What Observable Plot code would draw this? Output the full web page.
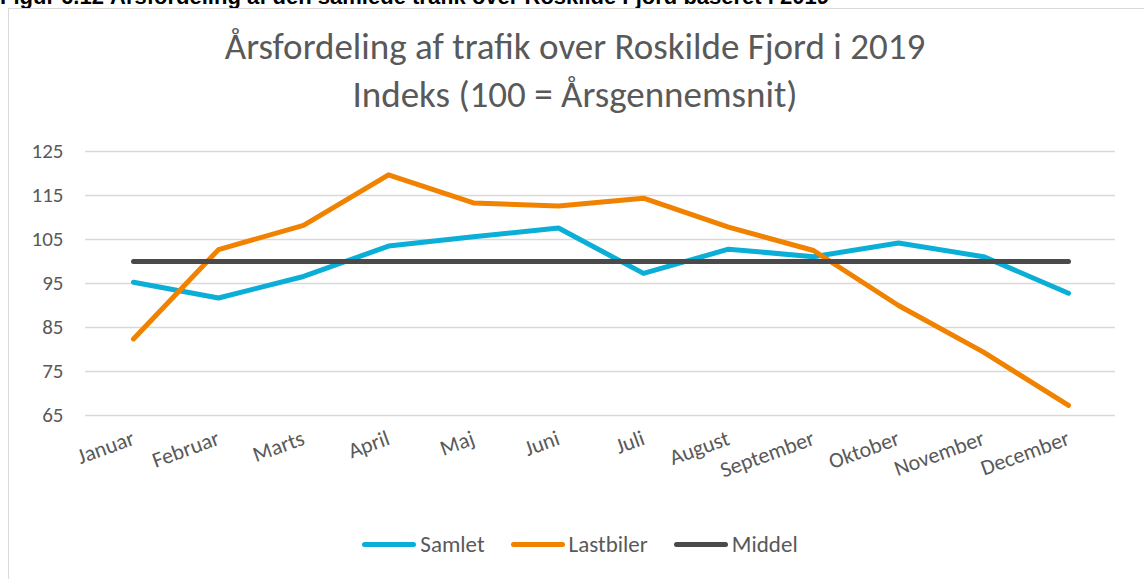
<!DOCTYPE html>
<html>
<head>
<meta charset="utf-8">
<script src="https://cdn.jsdelivr.net/npm/d3@7"></script>
<script src="https://cdn.jsdelivr.net/npm/@observablehq/plot@0.6"></script>
<style>
  html, body { margin: 0; padding: 0; background: #fff; }
  #wrap { position: relative; width: 1144px; height: 579px; overflow: hidden; font-family: Carlito, Lato, "Open Sans", sans-serif; color: #595959; }
  #caption { position: absolute; left: 0px; top: -16px; font: bold 22px "Liberation Sans", Arial, sans-serif; color: #000; white-space: nowrap; }
  #frame { position: absolute; left: 8px; top: 8px; width: 1160px; height: 600px; border: 1px solid #d9d9d9; box-sizing: border-box; }
  .title { position: absolute; left: 0; width: 1150px; text-align: center; font-size: 37px; font-weight: 300; color: #595959; white-space: nowrap; line-height: 1; }
  #chart { position: absolute; left: 0; top: 120px; }
  #legend { position: absolute; left: 0; width: 1160px; top: 530px; display: flex; justify-content: center; gap: 26px; font-size: 23px; color: #595959; }
  .item { display: flex; align-items: center; }
  .sw { width: 54px; height: 5px; border-radius: 3px; margin-right: 4px; }
</style>
</head>
<body>
<div id="wrap">
  <div id="caption">Figur 6.12 Årsfordeling af den samlede trafik over Roskilde Fjord baseret i 2019</div>
  <div id="frame"></div>
  <div class="title" style="top:28px">Årsfordeling af trafik over Roskilde Fjord i 2019</div>
  <div class="title" style="top:76px">Indeks (100 = Årsgennemsnit)</div>
  <div id="chart"></div>
  <div id="legend"></div>
</div>
<script>
const months = ["Januar","Februar","Marts","April","Maj","Juni","Juli","August","September","Oktober","November","December"];
const samlet = [95.3, 91.7, 96.6, 103.5, 105.6, 107.6, 97.3, 102.8, 101.1, 104.2, 101.1, 92.8];
const lastbiler = [82.4, 102.7, 108.2, 119.7, 113.3, 112.6, 114.4, 107.8, 102.5, 90.0, 79.4, 67.3];
const middel = [100, 100, 100, 100, 100, 100, 100, 100, 100, 100, 100, 100];
const yTicks = [65, 75, 85, 95, 105, 115, 125];
const seriesNames = ["Samlet", "Lastbiler", "Middel"];
const seriesColors = ["#0AAED6", "#F08200", "#4A4A4A"];

const seriesValues = [samlet, lastbiler, middel];
const data = [];
seriesNames.forEach((s, si) => months.forEach((m, i) => data.push({series: s, month: m, value: seriesValues[si][i]})));

const chart = Plot.plot({
  width: 1144,
  height: 360,
  marginTop: 31,
  marginBottom: 65,
  marginLeft: 85,
  marginRight: 29,
  style: {fontFamily: "Carlito, Lato, 'Open Sans', sans-serif", fontSize: "21px", color: "#595959", background: "transparent", overflow: "visible"},
  x: {type: "point", domain: months, padding: 0.5},
  y: {domain: [65, 125]},
  color: {domain: seriesNames, range: seriesColors},
  marks: [
    Plot.gridY(yTicks, {stroke: "#d9d9d9", strokeOpacity: 1, strokeWidth: 1.3}),
    Plot.axisY(yTicks, {tickSize: 0, tickPadding: 22, fontSize: 21, fill: "#595959", label: null}),
    Plot.axisX({tickSize: 0, tickPadding: 22, tickRotate: -20, fontSize: 22, fill: "#595959", label: null}),
    Plot.line(data, {x: "month", y: "value", z: "series", stroke: "series", strokeWidth: 5, strokeLinecap: "round", strokeLinejoin: "round"})
  ]
});
document.getElementById("chart").appendChild(chart);

const legend = document.getElementById("legend");
seriesNames.forEach((s, i) => {
  const it = document.createElement("div");
  it.className = "item";
  const sw = document.createElement("div");
  sw.className = "sw";
  sw.style.background = seriesColors[i];
  const t = document.createElement("span");
  t.textContent = s;
  it.appendChild(sw); it.appendChild(t);
  legend.appendChild(it);
});
</script>
</body>
</html>
